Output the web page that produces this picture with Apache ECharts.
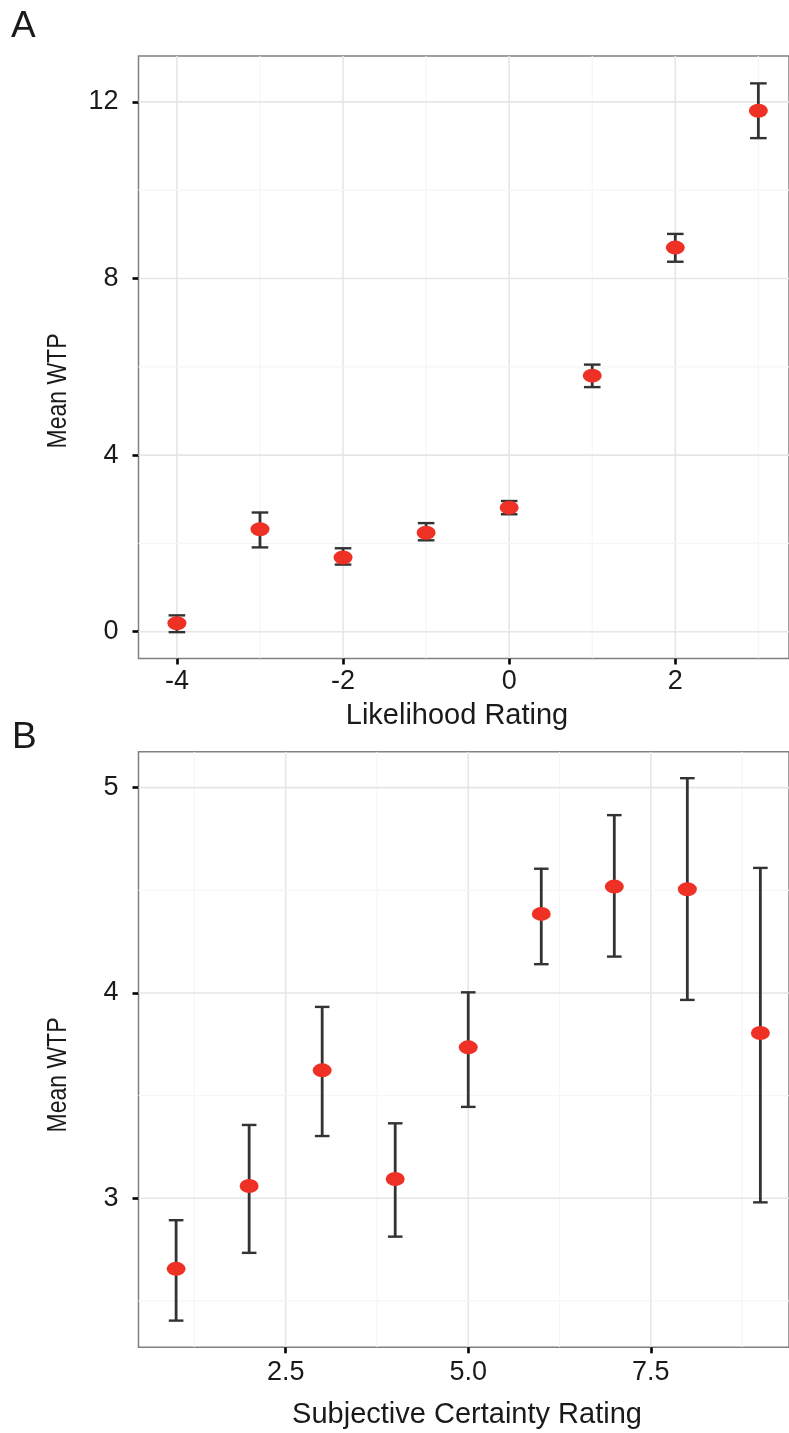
<!DOCTYPE html>
<html><head><meta charset="utf-8">
<script src="https://cdn.jsdelivr.net/npm/echarts@6/dist/echarts.min.js"></script>
<style>html,body{margin:0;padding:0;background:#fff}#c{width:789px;height:1433px}</style>
</head><body><div id="c"></div>
<script>
// ---- Panel A: Likelihood Rating ----
const likelihood = [-4, -3, -2, -1, 0, 1, 2, 3];
const wtpA  = [0.19, 2.32, 1.68, 2.24, 2.81, 5.80, 8.70, 11.80];
const lowA  = [-0.01, 1.91, 1.52, 2.07, 2.66, 5.54, 8.38, 11.18];
const highA = [0.37, 2.70, 1.89, 2.46, 2.96, 6.05, 9.01, 12.42];
const ticksAx = [-4, -2, 0, 2];
const minorAx = [-3, -1, 1, 3];
const ticksAy = [0, 4, 8, 12];
const minorAy = [2, 6, 10];

// ---- Panel B: Subjective Certainty Rating ----
const certainty = [1, 2, 3, 4, 5, 6, 7, 8, 9];
const wtpB  = [2.656, 3.060, 3.623, 3.094, 3.735, 4.385, 4.518, 4.505, 3.805];
const lowB  = [2.404, 2.734, 3.303, 2.813, 3.445, 4.140, 4.177, 3.966, 2.980];
const highB = [2.893, 3.357, 3.932, 3.365, 4.003, 4.605, 4.866, 5.046, 4.609];
const ticksBx = [2.5, 5.0, 7.5];
const minorBx = [1.25, 3.75, 6.25, 8.75];
const ticksBy = [3, 4, 5];
const minorBy = [2.5, 3.5, 4.5];

const FONT = 'Liberation Sans, Arial, Helvetica, sans-serif';
const TXT = '#1a1a1a';
const RED = '#ee3124';
const BAR = '#333333';
const GRID_MAJOR = '#e6e6e6';
const GRID_MINOR = '#f6f6f6';

function gridLineRender(dir) {
  return function (params, api) {
    const v = api.value(0), major = api.value(1) === 1;
    const cs = params.coordSys;
    const style = { stroke: major ? GRID_MAJOR : GRID_MINOR, lineWidth: major ? 1.6 : 1.2 };
    if (dir === 'x') {
      const px = api.coord([v, 0])[0];
      return { type: 'line', shape: { x1: px, y1: cs.y, x2: px, y2: cs.y + cs.height }, style };
    } else {
      const py = api.coord([0, v])[1];
      return { type: 'line', shape: { x1: cs.x, y1: py, x2: cs.x + cs.width, y2: py }, style };
    }
  };
}
function errRender(params, api) {
  const x = api.value(0), lo = api.value(1), hi = api.value(2);
  const pLo = api.coord([x, lo]), pHi = api.coord([x, hi]);
  const hw = api.size([0.1, 0])[0];
  const cap = { stroke: BAR, lineWidth: 2.4 };
  return {
    type: 'group', children: [
      { type: 'line', shape: { x1: pLo[0], y1: pLo[1], x2: pHi[0], y2: pHi[1] }, style: { stroke: BAR, lineWidth: 2.8 } },
      { type: 'line', shape: { x1: pLo[0] - hw, y1: pLo[1], x2: pLo[0] + hw, y2: pLo[1] }, style: cap },
      { type: 'line', shape: { x1: pHi[0] - hw, y1: pHi[1], x2: pHi[0] + hw, y2: pHi[1] }, style: cap }
    ]
  };
}
function gridData(major, minor) {
  return minor.map(v => [v, 0]).concat(major.map(v => [v, 1]));
}
function xAxisCfg(gi, min, max, ticks, fmt, margin) {
  return {
    type: 'value', gridIndex: gi, min, max, position: 'bottom',
    axisLine: { show: false, onZero: false },
    splitLine: { show: false },
    axisTick: { show: true, customValues: ticks, length: 6, lineStyle: { color: '#000', width: 2.6 } },
    axisLabel: { customValues: ticks, formatter: fmt, margin, fontSize: 27, color: TXT, fontFamily: FONT }
  };
}
function yAxisCfg(gi, min, max, ticks) {
  return {
    type: 'value', gridIndex: gi, min, max, position: 'left',
    axisLine: { show: false, onZero: false },
    splitLine: { show: false },
    axisTick: { show: true, customValues: ticks, length: 6, lineStyle: { color: '#000', width: 2.6 } },
    axisLabel: { customValues: ticks, margin: 20, fontSize: 27, color: TXT, fontFamily: FONT }
  };
}

const option = {
  animation: false,
  backgroundColor: '#fff',
  grid: [
    { left: 138.5, top: 56, width: 652, height: 602.5, show: true, borderColor: '#808080', borderWidth: 1.5, backgroundColor: 'transparent' },
    { left: 138.5, top: 751.7, width: 652, height: 595.6, show: true, borderColor: '#808080', borderWidth: 1.5, backgroundColor: 'transparent' }
  ],
  xAxis: [
    xAxisCfg(0, -4.4625, 3.369, ticksAx, v => String(v), 10),
    xAxisCfg(1, 0.485, 9.392, ticksBx, v => v.toFixed(1), 12)
  ],
  yAxis: [
    yAxisCfg(0, -0.607, 13.04, ticksAy),
    yAxisCfg(1, 2.274, 5.175, ticksBy)
  ],
  graphic: [
    { type: 'text', left: 11, top: 8, style: { text: 'A', fontSize: 37, fill: TXT, fontFamily: FONT } },
    { type: 'text', left: 12, top: 719, style: { text: 'B', fontSize: 37, fill: TXT, fontFamily: FONT } },
    { type: 'text', x: 58, y: 391, rotation: Math.PI / 2, scaleY: 1.22, style: { text: 'Mean WTP', fontSize: 23, fill: TXT, fontFamily: FONT, align: 'center', verticalAlign: 'middle' } },
    { type: 'text', x: 58, y: 1075, rotation: Math.PI / 2, scaleY: 1.22, style: { text: 'Mean WTP', fontSize: 23, fill: TXT, fontFamily: FONT, align: 'center', verticalAlign: 'middle' } },
    { type: 'text', x: 457, y: 716, style: { text: 'Likelihood Rating', fontSize: 29, fill: TXT, fontFamily: FONT, align: 'center', verticalAlign: 'middle' } },
    { type: 'text', x: 467, y: 1415, style: { text: 'Subjective Certainty Rating', fontSize: 29, fill: TXT, fontFamily: FONT, align: 'center', verticalAlign: 'middle' } }
  ],
  series: [
    { type: 'custom', xAxisIndex: 0, yAxisIndex: 0, renderItem: gridLineRender('x'), data: gridData(ticksAx, minorAx), silent: true, z: 1, clip: true },
    { type: 'custom', xAxisIndex: 0, yAxisIndex: 0, renderItem: gridLineRender('y'), data: gridData(ticksAy, minorAy), silent: true, z: 1, clip: true },
    { type: 'custom', xAxisIndex: 1, yAxisIndex: 1, renderItem: gridLineRender('x'), data: gridData(ticksBx, minorBx), silent: true, z: 1, clip: true },
    { type: 'custom', xAxisIndex: 1, yAxisIndex: 1, renderItem: gridLineRender('y'), data: gridData(ticksBy, minorBy), silent: true, z: 1, clip: true },
    { type: 'custom', xAxisIndex: 0, yAxisIndex: 0, renderItem: errRender, encode: { x: 0, y: [1, 2] },
      data: likelihood.map((x, i) => [x, lowA[i], highA[i]]), z: 3 },
    { type: 'custom', xAxisIndex: 1, yAxisIndex: 1, renderItem: errRender, encode: { x: 0, y: [1, 2] },
      data: certainty.map((x, i) => [x, lowB[i], highB[i]]), z: 3 },
    { type: 'scatter', xAxisIndex: 0, yAxisIndex: 0, symbol: 'circle', symbolSize: [19, 14],
      itemStyle: { color: RED, opacity: 1 }, data: likelihood.map((x, i) => [x, wtpA[i]]), z: 5 },
    { type: 'scatter', xAxisIndex: 1, yAxisIndex: 1, symbol: 'circle', symbolSize: [19, 14],
      itemStyle: { color: RED, opacity: 1 }, data: certainty.map((x, i) => [x, wtpB[i]]), z: 5 }
  ]
};
const chart = echarts.init(document.getElementById('c'), null, { renderer: 'canvas' });
chart.setOption(option);
</script>
</body></html>
